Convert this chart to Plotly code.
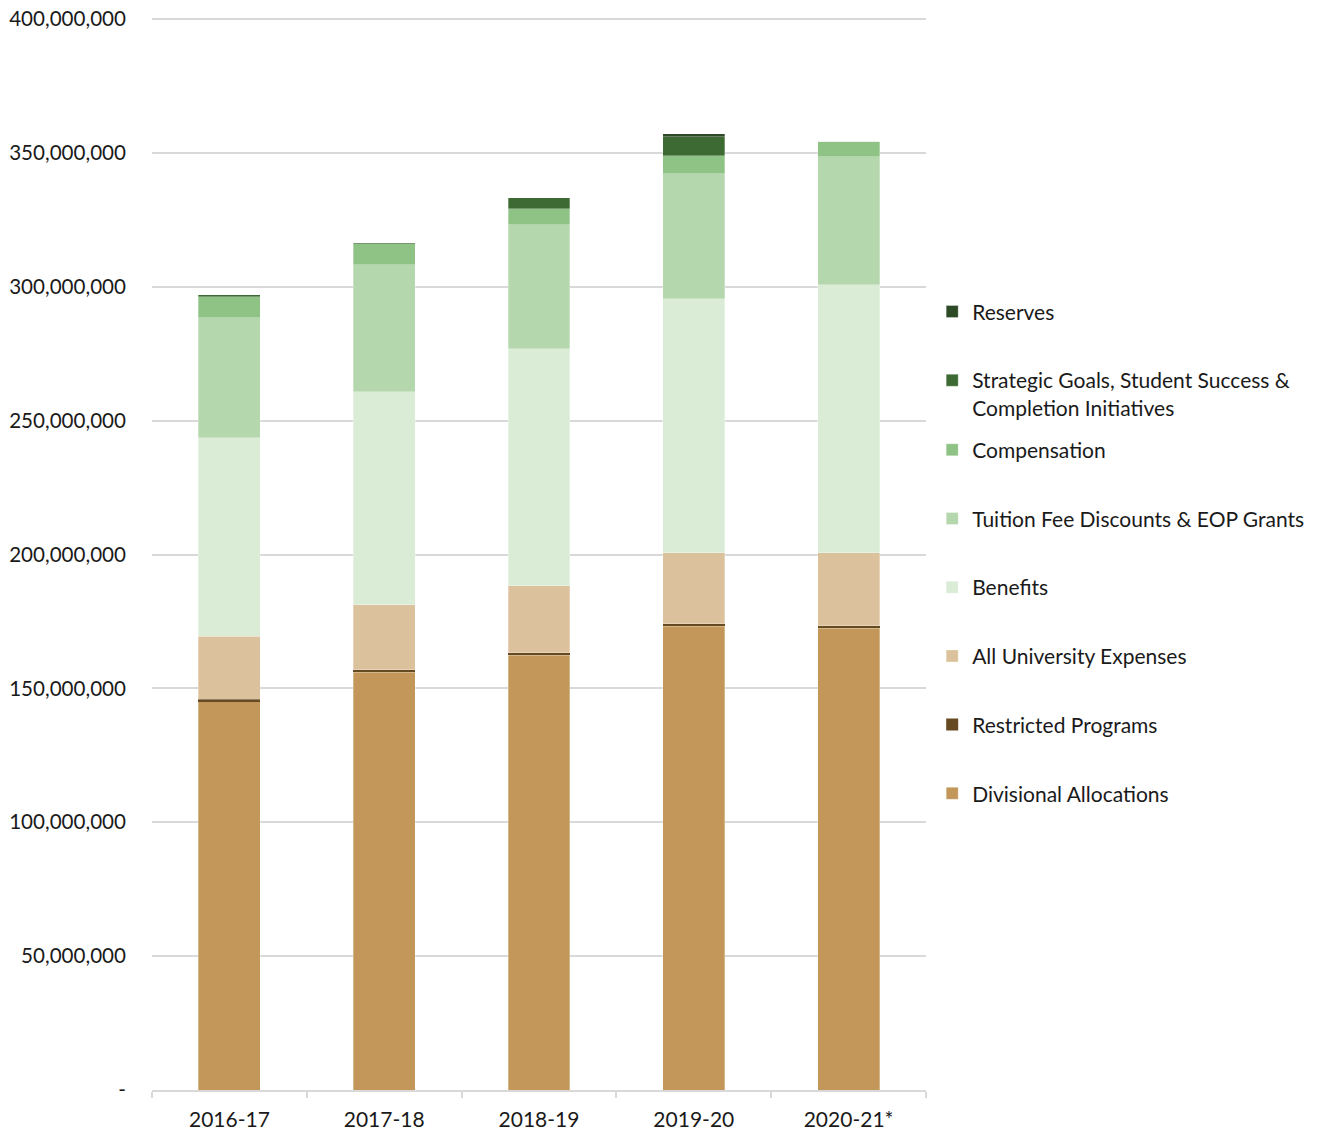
import plotly.graph_objects as go

years = ["2016-17", "2017-18", "2018-19", "2019-20", "2020-21*"]

divisional = [145.0e6, 156.0e6, 162.4e6, 173.2e6, 172.5e6]
restricted = [0.9e6, 0.9e6, 0.9e6, 0.9e6, 0.9e6]
all_univ = [23.5e6, 24.4e6, 25.1e6, 26.6e6, 27.3e6]
benefits = [74.3e6, 79.5e6, 88.5e6, 94.8e6, 100.0e6]
tuition = [44.7e6, 47.4e6, 46.2e6, 46.7e6, 47.9e6]
compensation = [7.9e6, 7.8e6, 6.0e6, 6.8e6, 5.8e6]
strategic = [0.8e6, 0.4e6, 4.1e6, 7.0e6, 0.0]
reserves = [0.0, 0.0, 0.0, 1.1e6, 0.0]

series = [
    ("Divisional Allocations", divisional, "#c29759", "legend2", 8),
    ("Restricted Programs", restricted, "#664a22", "legend2", 7),
    ("All University Expenses", all_univ, "#dbc19c", "legend2", 6),
    ("Benefits", benefits, "#daecd6", "legend2", 5),
    ("Tuition Fee Discounts & EOP Grants", tuition, "#b5d7ad", "legend2", 4),
    ("Compensation", compensation, "#8fc385", "legend2", 3),
    ("Strategic Goals, Student Success &<br>Completion Initiatives", strategic, "#3d6a33", "legend", 2),
    ("Reserves", reserves, "#2b4a25", "legend", 1),
]

ytickvals = [0, 50e6, 100e6, 150e6, 200e6, 250e6, 300e6, 350e6, 400e6]
yticktext = ["-", "50,000,000", "100,000,000", "150,000,000", "200,000,000",
             "250,000,000", "300,000,000", "350,000,000", "400,000,000"]

FONT = "Lato"
fig = go.Figure()
for i, (name, vals, color, lg, rank) in enumerate(series):
    lw = 0 if name == "Restricted Programs" else 0.5
    fig.add_trace(go.Bar(
        x=years, y=vals, name=name,
        marker=dict(color=color, line=dict(color="rgba(255,255,255,0.6)", width=lw)),
        legend=lg, legendgroup=f"g{i}", legendrank=rank,
    ))

leg_common = dict(xanchor="left", yanchor="top", traceorder="grouped",
                  tracegroupgap=38.4, valign="top",
                  font=dict(family=FONT, size=21, color="#1a1a1a"),
                  bgcolor="rgba(0,0,0,0)")

fig.update_layout(
    barmode="stack",
    bargap=0.6,
    width=1325, height=1131,
    margin=dict(l=152, r=399, t=18, b=41, autoexpand=False),
    paper_bgcolor="white", plot_bgcolor="white",
    font=dict(family=FONT, size=21, color="#1a1a1a"),
    legend=dict(x=1.008, y=0.745, **leg_common),
    legend2=dict(x=1.008, y=0.616, **leg_common),
    showlegend=True,
)
fig.update_yaxes(
    range=[0, 400.4e6], tickvals=ytickvals, ticktext=yticktext,
    showgrid=True, gridcolor="#d9d9d9", gridwidth=1.5, zeroline=False,
    showline=False, ticks="", ticklabelstandoff=25, ticklabeloverflow="allow",
    tickfont=dict(family=FONT, size=20.6, color="#1a1a1a"),
)
fig.update_xaxes(
    showline=True, linecolor="#d9d9d9", linewidth=1.5,
    ticks="outside", tickson="boundaries", ticklen=6, tickcolor="#d9d9d9", tickwidth=1.5,
    ticklabelstandoff=10,
    tickfont=dict(family=FONT, size=21, color="#1a1a1a"),
    showgrid=False,
)

fig.write_html("out.html", config={"displayModeBar": False},
               post_script="document.body.style.margin='0';document.body.style.overflow='hidden';")
